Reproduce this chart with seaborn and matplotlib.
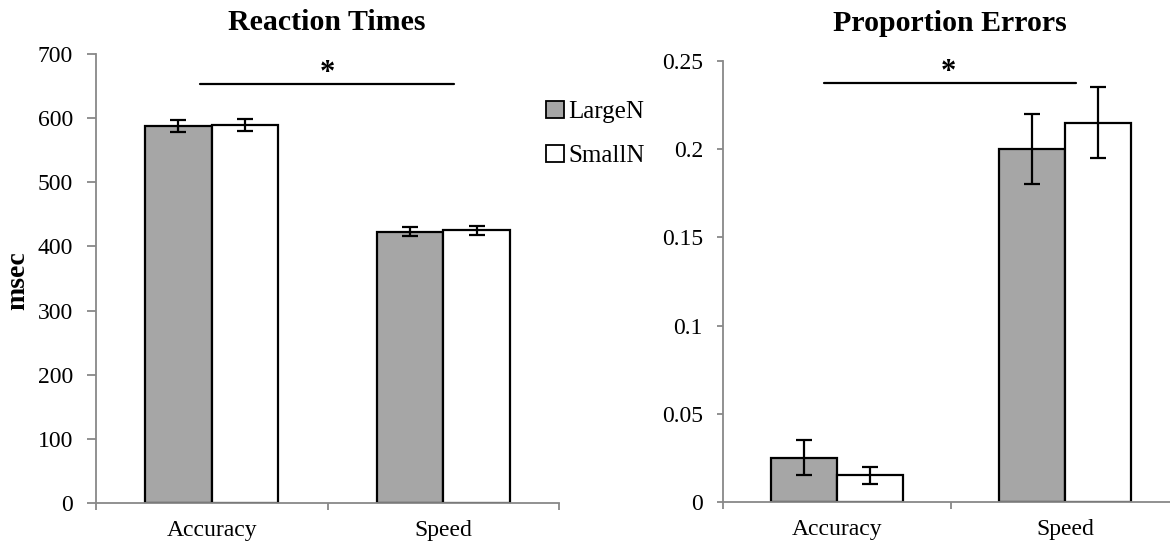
import pandas as pd
import matplotlib.pyplot as plt
import seaborn as sns
from matplotlib.patches import Patch

conditions = ['Accuracy', 'Speed']
groups = ['LargeN', 'SmallN']

rt_large = [588, 422.5]
rt_small = [589, 425]
rt_large_err = [9, 7]
rt_small_err = [9, 6.5]

pe_large = [0.025, 0.2]
pe_small = [0.015, 0.215]
pe_large_err = [0.01, 0.02]
pe_small_err = [0.005, 0.02]

rt_ticks = [0, 100, 200, 300, 400, 500, 600, 700]
pe_ticks = [0, 0.05, 0.1, 0.15, 0.2, 0.25]
pe_ticklabels = ['0', '0.05', '0.1', '0.15', '0.2', '0.25']

colors = {'LargeN': '#a6a6a6', 'SmallN': 'white'}
axis_gray = '#888888'

sns.set_theme(style='white')
plt.rcParams['font.family'] = ['Liberation Serif', 'DejaVu Serif']
plt.rcParams['text.color'] = 'black'
plt.rcParams['xtick.labelcolor'] = 'black'
plt.rcParams['ytick.labelcolor'] = 'black'


def draw_panel(ax, large, small, large_err, small_err, ytick_len):
    df = pd.DataFrame({
        'condition': conditions * 2,
        'group': [groups[0]] * 2 + [groups[1]] * 2,
        'value': large + small,
    })
    sns.barplot(data=df, x='condition', y='value', hue='group', palette=colors,
                edgecolor='black', linewidth=1.6, width=0.576, errorbar=None,
                legend=False, ax=ax)
    # error bars on top of the seaborn bars
    for cont, errs in zip(ax.containers, [large_err, small_err]):
        for bar, e in zip(cont, errs):
            x = bar.get_x() + bar.get_width() / 2
            ax.errorbar(x, bar.get_height(), yerr=e, color='black',
                        capsize=6, elinewidth=1.6, capthick=1.6)
    ax.set_xlabel('')
    ax.set_ylabel('')
    for s in ['top', 'right']:
        ax.spines[s].set_visible(False)
    for s in ['left', 'bottom']:
        ax.spines[s].set_color(axis_gray)
        ax.spines[s].set_linewidth(1.3)
    ax.set_xticks([0, 1], minor=True)
    ax.set_xticklabels(conditions, minor=True)
    ax.set_xticks([-0.5, 0.5, 1.5])
    ax.set_xticklabels([])
    ax.tick_params(axis='x', which='minor', length=0, labelsize=17, pad=12)
    ax.tick_params(axis='x', which='major', direction='out', length=5,
                   width=1.3, color=axis_gray, bottom=True)
    ax.tick_params(axis='y', direction='out', length=ytick_len, width=1.3,
                   color=axis_gray, labelsize=17, left=True, pad=10)


fig = plt.figure(figsize=(11.7, 5.45), dpi=100)
ax1 = fig.add_axes([0.082, 0.077, 0.396, 0.824])
ax2 = fig.add_axes([0.618, 0.079, 0.382, 0.809])

draw_panel(ax1, rt_large, rt_small, rt_large_err, rt_small_err, 6.5)
ax1.set_ylim(0, 700)
ax1.set_yticks(rt_ticks)
ax1.set_xlim(-0.5, 1.5)
ax1.plot([-0.05, 1.045], [653, 653], color='black', lw=1.6, clip_on=False)
ax1.text(0.5, 669, '*', ha='center', va='center', fontsize=22, fontweight='bold')

draw_panel(ax2, pe_large, pe_small, pe_large_err, pe_small_err, 4.5)
ax2.set_ylim(0, 0.25)
ax2.set_yticks(pe_ticks)
ax2.set_yticklabels(pe_ticklabels)
ax2.set_xlim(-0.5, 1.46)
ax2.plot([-0.059, 1.046], [0.2375, 0.2375], color='black', lw=1.6, clip_on=False)
ax2.text(0.49, 0.2436, '*', ha='center', va='center', fontsize=22, fontweight='bold')

fig.text(0.2795, 0.958, 'Reaction Times', ha='center', va='center',
         fontsize=21.5, fontweight='bold')
fig.text(0.812, 0.956, 'Proportion Errors', ha='center', va='center',
         fontsize=21.5, fontweight='bold')
fig.text(0.0154, 0.486, 'msec', rotation=90, ha='center', va='center',
         fontsize=20, fontweight='bold')

handles = [Patch(facecolor=colors[g], edgecolor='black', linewidth=1.3, label=g)
           for g in groups]
fig.legend(handles=handles, loc='center left', bbox_to_anchor=(0.4667, 0.754),
           frameon=False, fontsize=18, handlelength=0.7, handleheight=0.7,
           handletextpad=0.2, labelspacing=0.85, borderpad=0, borderaxespad=0)

fig.savefig('out.png', dpi=100)
